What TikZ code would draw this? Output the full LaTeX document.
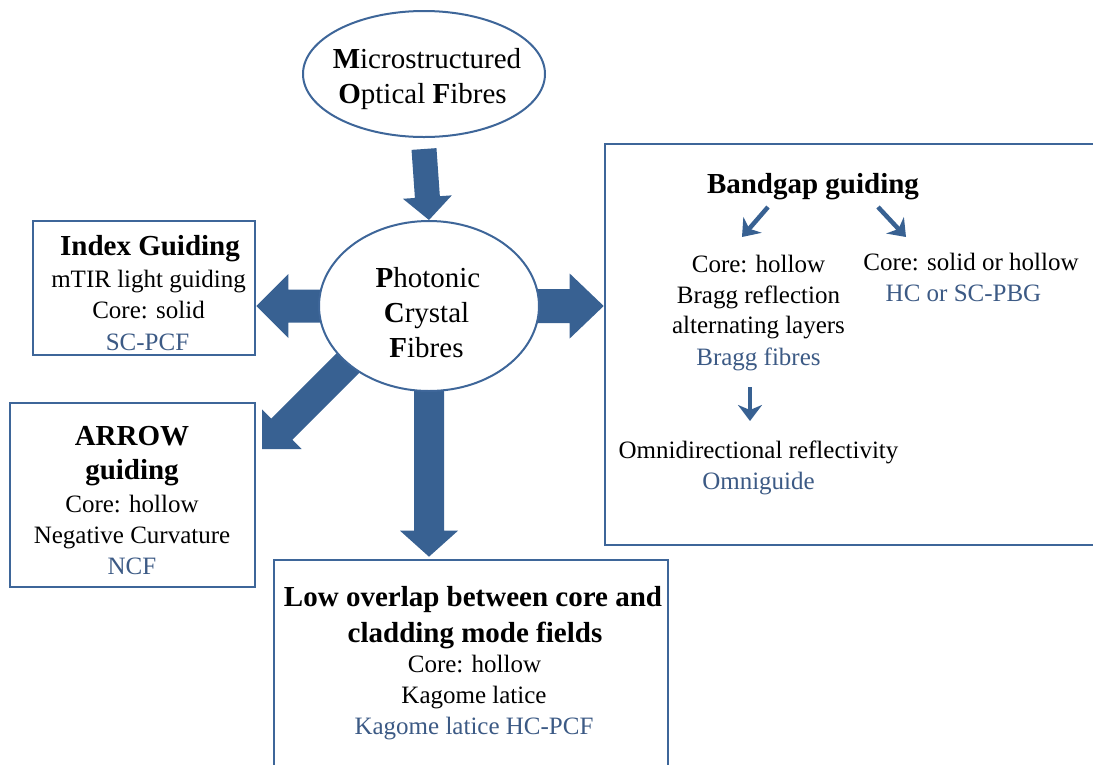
\documentclass[tikz,border=0pt]{standalone}
\usepackage{fontspec}
\setmainfont{Liberation Serif}
\usetikzlibrary{calc,shapes.geometric,arrows.meta,backgrounds}
\definecolor{arrblue}{HTML}{386192}
\definecolor{lineblue}{HTML}{3E6699}
\definecolor{txtblue}{HTML}{3C5A85}
\tikzset{
  oval/.style={draw=lineblue, line width=2pt, fill=white, ellipse, inner sep=0pt},
  panel/.style={draw=lineblue, line width=2.6pt, fill=white, rectangle, inner sep=0pt},
  ttl/.style={font=\fontsize{29}{33}\selectfont\bfseries, anchor=base, inner sep=0pt},
  ovt/.style={font=\fontsize{29}{33}\selectfont, anchor=base, inner sep=0pt},
  reg/.style={font=\fontsize{25}{30}\selectfont, anchor=base, inner sep=0pt},
  blu/.style={reg, text=txtblue},
  thinarrow/.style={draw=arrblue, line width=4.5pt, -{Stealth[length=16pt,width=24pt,inset=5pt]}},
}
% block arrow: from, to, shaft half width, head half width, head length
\newcommand\blockarrow[5]{%
  \coordinate (hb) at ($(#2)!#5!(#1)$);
  \fill[arrblue] ($(#1)!#3!90:(#2)$) -- ($(hb)!#3!90:(#2)$) -- ($(hb)!#4!90:(#2)$) -- (#2)
    -- ($(hb)!#4!-90:(#2)$) -- ($(hb)!#3!-90:(#2)$) -- ($(#1)!#3!-90:(#2)$) -- cycle;
}
\begin{document}
\begin{tikzpicture}[x=1pt,y=-1pt]
\useasboundingbox (0,0) rectangle (1093,764);
\clip (0,0) rectangle (1093,764);

% shapes
\node[oval, minimum width=242pt, minimum height=126pt] (mof) at (424,74) {};
\node[oval, minimum width=220pt, minimum height=170pt] (pcf) at (429,306) {};
\node[panel, minimum width=222pt, minimum height=134pt] (idx) at (144,288) {};
\node[panel, minimum width=245pt, minimum height=184pt] (arw) at (132.5,495) {};
\node[panel, minimum width=495pt, minimum height=401pt] (bg) at (852.5,344.5) {};
\node[panel, minimum width=394pt, minimum height=230pt] (low) at (471,675) {};

% texts: top ellipse
\node[ovt] (mof1) at (427,68) {\textbf{M}icrostructured};
\node[ovt] (mof2) at (422.5,103) {\textbf{O}ptical \textbf{F}ibres};
% PCF ellipse
\node[ovt] (pcf1) at (428,287) {\textbf{P}hotonic};
\node[ovt] (pcf2) at (426.5,322) {\textbf{C}rystal};
\node[ovt] (pcf3) at (426.5,357) {\textbf{F}ibres};
% index guiding
\node[ttl] (idx1) at (150,255) {Index Guiding};
\node[reg] (idx2) at (148.5,287) {mTIR light guiding};
\node[reg] (idx3) at (148.5,318) {Core: solid};
\node[blu] (idx4) at (147.5,350) {SC-PCF};
% ARROW guiding
\node[ttl] (arw1) at (132,445) {ARROW};
\node[ttl] (arw2) at (132,479) {guiding};
\node[reg] (arw3) at (132,512) {Core: hollow};
\node[reg] (arw4) at (132,543) {Negative Curvature};
\node[blu] (arw5) at (132,574) {NCF};
% bandgap
\node[ttl] (bg1) at (813,193) {Bandgap guiding};
\node[reg] (bg2) at (758.5,272) {Core: hollow};
\node[reg] (bg3) at (758.5,303) {Bragg reflection};
\node[reg] (bg4) at (758.5,333) {alternating layers};
\node[blu] (bg5) at (758.5,365) {Bragg fibres};
\node[reg] (bg6) at (758.5,458) {Omnidirectional reflectivity};
\node[blu] (bg7) at (758.5,489) {Omniguide};
\node[reg] (bg8) at (971,270) {Core: solid or hollow};
\node[blu] (bg9) at (963.5,301) {HC or SC-PBG};
% low overlap
\node[ttl] (low1) at (473,606) {Low overlap between core and};
\node[ttl] (low2) at (475,642) {cladding mode fields};
\node[reg] (low3) at (474.5,672) {Core: hollow};
\node[reg] (low4) at (474,703) {Kagome latice};
\node[blu] (low5) at (474,734) {Kagome latice HC-PCF};

% small arrows inside bandgap panel
\coordinate (s1a) at (768,207); \coordinate (s1b) at (742,237);
\coordinate (s2a) at (878,207); \coordinate (s2b) at (906,237);
\coordinate (s3a) at (750,387); \coordinate (s3b) at (750,421);
\draw[thinarrow] (s1a) -- (s1b);
\draw[thinarrow] (s2a) -- (s2b);
\draw[thinarrow] (s3a) -- (s3b);

% block arrows behind the shapes
\begin{pgfonlayer}{background}
  \coordinate (t0) at ($(mof.south)+(0,11)$);
  \blockarrow{t0}{pcf.north}{12.5pt}{24.5pt}{23pt}
  \coordinate (r1) at (pcf.center -| bg.west);
  \blockarrow{pcf.center}{r1}{17pt}{32.5pt}{34pt}
  \coordinate (l1) at (pcf.center -| idx.east);
  \blockarrow{pcf.center}{l1}{16.5pt}{32pt}{32pt}
  \coordinate (b1) at ($(pcf.center |- low.north)+(0,-2)$);
  \blockarrow{pcf.center}{b1}{15pt}{29pt}{26pt}
  \coordinate (d0) at (360,351);
  \coordinate (d1) at (262,449);
  \blockarrow{d0}{d1}{15pt}{28pt}{28pt}
\end{pgfonlayer}
\end{tikzpicture}
\end{document}
